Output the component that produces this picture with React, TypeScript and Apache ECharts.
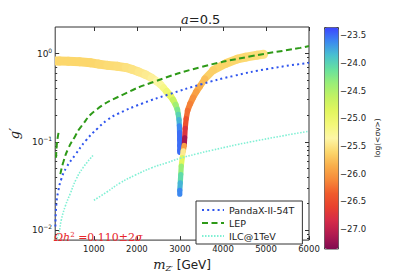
import React, { useEffect, useRef } from 'react';
import * as echarts from 'echarts';

// ---- axis ticks ----
const xTicks = [1000, 2000, 3000, 4000, 5000, 6000];
const yMajorTicks = [0.01, 0.1, 1];
const yMinorTicks = [0.008, 0.009, 0.02, 0.03, 0.04, 0.05, 0.06, 0.07, 0.08, 0.09, 0.2, 0.3, 0.4, 0.5, 0.6, 0.7, 0.8, 0.9];
const cbTicks = [-27.0, -26.5, -26.0, -25.5, -25.0, -24.5, -24.0, -23.5];

// ---- constraint curves [m_Z' (GeV), g'] ----
const pandaX = [
  [105, 0.011], [128, 0.02], [174, 0.028], [243, 0.038], [358, 0.051], [564, 0.071],
  [816, 0.104], [1092, 0.143], [1321, 0.178], [1551, 0.207], [2124, 0.272], [2743, 0.345],
  [3500, 0.45], [4257, 0.56], [5037, 0.67], [6000, 0.785],
];
const lepMain = [
  [220, 0.043], [289, 0.059], [404, 0.084], [564, 0.116], [702, 0.149], [1046, 0.229],
  [1665, 0.341], [2422, 0.484], [3500, 0.705], [4647, 0.93], [5795, 1.16], [6000, 1.22],
];
const lepLow = [[120, 0.066], [135, 0.09], [160, 0.113], [185, 0.132]];
const ilcLow = [
  [100, 0.0076], [174, 0.0088], [243, 0.0131], [335, 0.0187], [450, 0.0259], [587, 0.0377],
  [748, 0.051], [977, 0.07],
];
const ilcHigh = [
  [1000, 0.0218], [1300, 0.027], [1600, 0.034], [1963, 0.042], [2353, 0.051], [2700, 0.058],
  [3000, 0.065], [3390, 0.073], [3730, 0.08], [4650, 0.1], [6000, 0.132],
];

// ---- relic density band [m_Z', g', log<sigma v>] ----
const relicLeft = [
  [105, 0.824, -25.6], [289, 0.82, -25.6], [518, 0.815, -25.6], [816, 0.8, -25.6],
  [1023, 0.775, -25.6], [1206, 0.746, -25.58], [1436, 0.725, -25.56], [1665, 0.709, -25.55],
  [1826, 0.68, -25.52], [1963, 0.641, -25.5], [2124, 0.6, -25.47], [2285, 0.551, -25.44],
  [2399, 0.51, -25.4], [2514, 0.462, -25.35], [2583, 0.43, -25.28], [2652, 0.389, -25.18],
  [2732, 0.352, -25.05], [2812, 0.319, -24.9], [2870, 0.281, -24.65], [2927, 0.248, -24.4],
  [2950, 0.219, -24.2], [2973, 0.192, -24.0], [2984, 0.166, -23.8], [2990, 0.139, -23.6],
  [2993, 0.116, -23.5], [2995, 0.098, -23.5], [2996, 0.084, -23.5], [2996, 0.076, -23.5],
];
const relicRight = [
  [4946, 0.983, -25.5], [4647, 0.935, -25.55], [4418, 0.889, -25.58], [4257, 0.845, -25.6],
  [3890, 0.709, -25.62], [3661, 0.594, -25.65], [3500, 0.451, -25.75], [3420, 0.398, -25.85],
  [3340, 0.342, -25.95], [3271, 0.294, -26.05], [3202, 0.247, -26.15], [3156, 0.207, -26.25],
  [3133, 0.161, -26.45], [3110, 0.125, -26.75], [3110, 0.098, -27.15], [3088, 0.084, -25.95],
  [3065, 0.074, -25.45], [3042, 0.059, -24.85], [3019, 0.048, -24.35], [3019, 0.0377, -24.05],
  [2996, 0.031, -23.8], [2996, 0.0255, -23.6],
];

const cbMin = -27.35;
const cbMax = -23.35;
const cmapColors = [
  '#800a50', '#b01a50', '#d42a4a', '#e8402f', '#f05a2c', '#f68a3a', '#f9ae4a', '#fcd76c',
  '#fdf6a6', '#f4f878', '#e2f65e', '#c2f262', '#98ee78', '#66e0a0', '#48c0d0', '#3c88f0', '#3c44ff',
];

function bandSeries(branch: number[][]) {
  return {
    type: 'custom',
    xAxisIndex: 0,
    yAxisIndex: 0,
    clip: true,
    data: branch,
    dimensions: ['m', 'g', 'sv'],
    encode: { x: 0, y: 1 },
    renderItem: (params: any, api: any) => {
      const i = params.dataIndex;
      const p = api.coord([api.value(0), api.value(1)]);
      const prev = i > 0 ? api.coord([branch[i - 1][0], branch[i - 1][1]]) : p;
      const next = i < branch.length - 1 ? api.coord([branch[i + 1][0], branch[i + 1][1]]) : p;
      const a = [(prev[0] + p[0]) / 2, (prev[1] + p[1]) / 2];
      const b = [(next[0] + p[0]) / 2, (next[1] + p[1]) / 2];
      const dx = b[0] - a[0];
      const dy = b[1] - a[1];
      const L = Math.hypot(dx, dy) || 1;
      const c = dx / L;
      const s = dy / L;
      const w = 2 * Math.sqrt((2.6 * s) ** 2 + (4.5 * c) ** 2);
      return {
        type: 'line',
        shape: { x1: a[0], y1: a[1], x2: b[0], y2: b[1] },
        style: { stroke: api.visual('color'), lineWidth: w, lineCap: 'round' },
      };
    },
  };
}

const tickColor = '#333';
const labelFont = 'DejaVu Sans';

export default function App() {
  const ref = useRef<HTMLDivElement>(null);
  useEffect(() => {
    if (!ref.current) return;
    const chart = echarts.init(ref.current, undefined, { renderer: 'svg' });
    const expLabel = (v: number) => {
      const e = Math.round(Math.log10(v));
      return `{b|10}{s|${e < 0 ? '−' + -e : e}}`;
    };
    const option: any = {
      animation: false,
      backgroundColor: '#fff',
      grid: [
        { left: 51, top: 27, width: 258, height: 221.5, show: true, borderColor: tickColor, borderWidth: 1, backgroundColor: 'transparent' },
        { left: 324, top: 27, width: 14, height: 221.5, show: false },
      ],
      xAxis: [
        {
          gridIndex: 0, type: 'value', min: 100, max: 6000, position: 'bottom',
          axisLine: { show: false }, splitLine: { show: false },
          axisTick: { show: true, inside: true, length: 4, customValues: xTicks, lineStyle: { color: tickColor } },
          axisLabel: { customValues: xTicks, fontSize: 8.5, color: '#222', fontFamily: labelFont, margin: 4, formatter: (v: number) => String(v) },
          name: '{m|m}{z|Z′}{g| [GeV]}', nameLocation: 'middle', nameGap: 14,
          nameTextStyle: {
            rich: {
              m: { fontFamily: 'DejaVu Serif', fontStyle: 'italic', fontSize: 13, color: '#222' },
              z: { fontFamily: 'DejaVu Serif', fontStyle: 'italic', fontSize: 8, color: '#222', padding: [7, 0, 0, 0] },
              g: { fontFamily: labelFont, fontSize: 12, color: '#222' },
            },
          },
        },
        {
          gridIndex: 0, type: 'value', min: 100, max: 6000, position: 'top',
          axisLine: { show: false }, splitLine: { show: false },
          axisTick: { show: true, inside: true, length: 4, customValues: xTicks, lineStyle: { color: tickColor } },
          axisLabel: { show: false },
        },
        { gridIndex: 1, type: 'value', min: 0, max: 1, show: false },
      ],
      yAxis: [
        {
          gridIndex: 0, type: 'log', min: 0.0077, max: 2, position: 'left',
          axisLine: { show: false }, splitLine: { show: false }, minorTick: { show: false },
          axisTick: { show: true, inside: true, length: 4, customValues: yMajorTicks, lineStyle: { color: tickColor } },
          axisLabel: {
            customValues: yMajorTicks, formatter: expLabel, margin: 3,
            rich: {
              b: { fontSize: 9, color: '#222', fontFamily: labelFont },
              s: { fontSize: 6, color: '#222', fontFamily: labelFont, padding: [0, 0, 7, 0] },
            },
          },
          name: 'g′', nameLocation: 'middle', nameGap: 25, nameRotate: 90,
          nameTextStyle: { fontFamily: 'DejaVu Serif', fontStyle: 'italic', fontSize: 13, color: '#222' },
        },
        {
          gridIndex: 0, type: 'log', min: 0.0077, max: 2, position: 'left',
          axisLine: { show: false }, splitLine: { show: false },
          axisTick: { show: true, inside: true, length: 2, customValues: yMinorTicks, lineStyle: { color: tickColor } },
          axisLabel: { show: false },
        },
        {
          gridIndex: 0, type: 'log', min: 0.0077, max: 2, position: 'right',
          axisLine: { show: false }, splitLine: { show: false },
          axisTick: { show: true, inside: true, length: 4, customValues: yMajorTicks, lineStyle: { color: tickColor } },
          axisLabel: { show: false },
        },
        {
          gridIndex: 0, type: 'log', min: 0.0077, max: 2, position: 'right',
          axisLine: { show: false }, splitLine: { show: false },
          axisTick: { show: true, inside: true, length: 2, customValues: yMinorTicks, lineStyle: { color: tickColor } },
          axisLabel: { show: false },
        },
        {
          gridIndex: 1, type: 'value', min: cbMin, max: cbMax, position: 'right',
          axisLine: { show: false }, splitLine: { show: false },
          axisTick: { show: true, inside: false, length: 2, customValues: cbTicks, lineStyle: { color: tickColor } },
          axisLabel: {
            customValues: cbTicks, margin: 2, fontSize: 8.5, color: '#222', fontFamily: labelFont,
            formatter: (v: number) => (v < 0 ? '−' : '') + Math.abs(v).toFixed(1),
          },
          name: 'log(<σv>)', nameLocation: 'middle', nameRotate: 90, nameGap: 35,
          nameTextStyle: { fontSize: 7.5, color: '#222', fontFamily: labelFont },
        },
      ],
      visualMap: {
        type: 'continuous', min: cbMin, max: cbMax, dimension: 2, seriesIndex: [0, 1],
        inRange: { color: cmapColors }, calculable: false, hoverLink: false,
        orient: 'vertical', left: 324, top: 27, itemWidth: 14, itemHeight: 221.5, padding: 0,
        borderColor: '#444', borderWidth: 1,
      },
      legend: {
        data: ['PandaX-II-54T', 'LEP', 'ILC@1TeV'], orient: 'vertical', left: 196, top: 201,
        padding: [4, 8, 3, 5], itemGap: 3, itemWidth: 22, itemHeight: 9,
        backgroundColor: '#fff', borderColor: '#333', borderWidth: 1, borderRadius: 0,
        itemStyle: { opacity: 0, borderWidth: 0 },
        textStyle: { fontSize: 9.5, color: '#222', fontFamily: labelFont }, selectedMode: false,
      },
      graphic: [
        {
          type: 'text', left: 181, top: 13,
          style: {
            text: '{i|a}{n|=0.5}', textAlign: 'center',
            rich: {
              i: { fontFamily: 'DejaVu Serif', fontStyle: 'italic', fontSize: 13, fill: '#222' },
              n: { fontFamily: labelFont, fontSize: 13, fill: '#222' },
            },
          },
        },
        {
          type: 'text', left: 54, top: 231, z: 10,
          style: {
            text: '{i|Ωh}{s|2}{n| =0.110±2}{i|σ}',
            rich: {
              i: { fontFamily: 'DejaVu Serif', fontStyle: 'italic', fontSize: 11, fill: '#e8262a' },
              s: { fontFamily: 'DejaVu Serif', fontSize: 7, fill: '#e8262a', padding: [0, 0, 6, 0] },
              n: { fontFamily: 'DejaVu Serif', fontSize: 11, fill: '#e8262a' },
            },
          },
        },
      ],
      series: [
        bandSeries(relicLeft),
        bandSeries(relicRight),
        {
          name: 'PandaX-II-54T', type: 'line', data: pandaX, smooth: true, symbol: 'none',
          lineStyle: { color: '#2f55ee', width: 2, type: [2, 3.2] }, itemStyle: { color: '#2f55ee' }, z: 5,
        },
        {
          name: 'LEP', type: 'line', data: lepMain, smooth: true, symbol: 'none',
          lineStyle: { color: '#2e9a18', width: 2, type: [6, 3.5] }, itemStyle: { color: '#2e9a18' }, z: 5,
        },
        {
          name: 'LEP', type: 'line', data: lepLow, smooth: true, symbol: 'none',
          lineStyle: { color: '#2e9a18', width: 2, type: [6, 3.5] }, itemStyle: { color: '#2e9a18' }, z: 5,
        },
        {
          name: 'ILC@1TeV', type: 'line', data: ilcLow, smooth: true, symbol: 'none',
          lineStyle: { color: '#7ff0d4', width: 1.6, type: [1.5, 1.5] }, itemStyle: { color: '#7ff0d4' }, z: 5,
        },
        {
          name: 'ILC@1TeV', type: 'line', data: ilcHigh, smooth: true, symbol: 'none',
          lineStyle: { color: '#7ff0d4', width: 1.6, type: [1.5, 1.5] }, itemStyle: { color: '#7ff0d4' }, z: 5,
        },
      ],
    };
    chart.setOption(option);
    return () => chart.dispose();
  }, []);
  return <div ref={ref} style={{ width: 415, height: 277, position: 'absolute', left: 0, top: 0 }} />;
}
